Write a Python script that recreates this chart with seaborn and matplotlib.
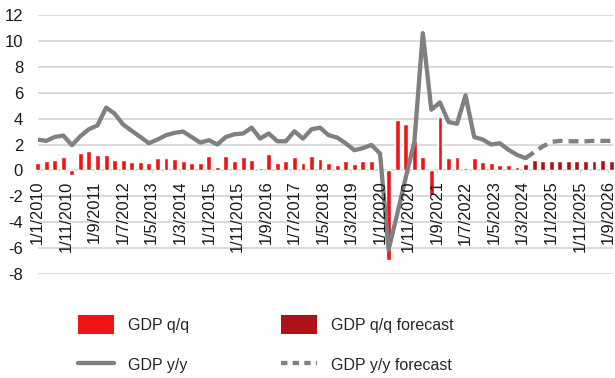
import pandas as pd
import numpy as np
import matplotlib
matplotlib.use("Agg")
import matplotlib.pyplot as plt
import matplotlib.transforms as mtransforms
import seaborn as sns
from matplotlib.patches import Patch
from matplotlib.lines import Line2D

# quarterly data, 1/1/2010 .. 1/10/2026
quarters = pd.date_range("2010-01-01", periods=68, freq="QS")

# GDP q/q (actual) up to 1/1/2024, forecast after that
gdp_qq = [0.6, 0.74, 0.82, 1.02, -0.35, 1.38, 1.53, 1.17, 1.17, 0.82,
          0.78, 0.64, 0.64, 0.56, 0.95, 0.97, 0.9, 0.72, 0.6, 0.56,
          1.12, 0.25, 1.15, 0.74, 1.07, 0.82, 0.2, 1.23, 0.56, 0.74,
          1.02, 0.6, 1.15, 0.87, 0.54, 0.38, 0.74, 0.49, 0.69, 0.69,
          0.1, -6.94, 3.87, 3.61, 2.28, 1.05, -1.92, 4.12, 0.92, 1.05,
          0.2, 0.97, 0.67, 0.59, 0.42, 0.45, 0.27]
gdp_qq_fc = [0.5, 0.77, 0.72, 0.72, 0.72, 0.72, 0.72, 0.72, 0.72, 0.77, 0.72]

# GDP y/y (actual) and forecast (forecast starts at the last actual point)
gdp_yy = [2.38, 2.28, 2.58, 2.69, 1.95, 2.64, 3.18, 3.48, 4.85, 4.38,
          3.54, 3.05, 2.58, 2.1, 2.38, 2.72, 2.9, 3.0, 2.58, 2.15,
          2.33, 2.0, 2.58, 2.79, 2.85, 3.3, 2.46, 2.85, 2.25, 2.25,
          3.02, 2.46, 3.18, 3.3, 2.72, 2.54, 2.08, 1.56, 1.72, 1.97,
          1.3, -6.13, -3.4, -0.55, 2.2, 10.6, 4.69, 5.25, 3.74, 3.6,
          5.8, 2.58, 2.38, 2.0, 2.1, 1.6, 1.2, 0.95]
gdp_yy_fc = [0.95, 1.4, 1.85, 2.2, 2.28, 2.25, 2.25, 2.25, 2.28, 2.28, 2.28]

y_ticks = [-8, -6, -4, -2, 0, 2, 4, 6, 8, 10, 12]
# x labels every 10 months
x_ticks = pd.date_range("2010-01-01", "2026-09-01", freq="10MS")
x_labels = [f"{d.day}/{d.month}/{d.year}" for d in x_ticks]

red = "#f01414"
dark_red = "#ae1117"
grey = "#808080"

n_act = len(gdp_qq)
df_bar = pd.DataFrame({"date": quarters[:n_act], "val": gdp_qq})
df_bar_fc = pd.DataFrame({"date": quarters[n_act:], "val": gdp_qq_fc})
df_yy = pd.DataFrame({"date": quarters[:len(gdp_yy)], "val": gdp_yy})
df_yy_fc = pd.DataFrame({"date": quarters[len(gdp_yy) - 1:], "val": gdp_yy_fc})

sns.set_theme(style="white")
plt.rcParams["font.family"] = ["Liberation Sans", "DejaVu Sans"]

fig = plt.figure(figsize=(6.15, 3.78), dpi=100)
ax = fig.add_axes([0.0613, 0.2751, 0.9359, 0.6852])

ax.bar(df_bar["date"], df_bar["val"], width=52, color=red, clip_on=False, zorder=2)
ax.bar(df_bar_fc["date"], df_bar_fc["val"], width=52, color=dark_red, clip_on=False, zorder=2)

sns.lineplot(data=df_yy, x="date", y="val", ax=ax, color=grey, lw=3.1, zorder=3)
sns.lineplot(data=df_yy_fc, x="date", y="val", ax=ax, color=grey, lw=3.1, zorder=3,
             linestyle=(0, (2.3, 1.4)))

ax.set_ylim(-8, 12)
ax.set_xlim(quarters[0], quarters[0] + pd.Timedelta(days=6140))
ax.set_yticks(y_ticks)
ax.set_yticklabels([str(v) for v in y_ticks])
ax.set_xticks(x_ticks)
ax.set_xlabel("")
ax.set_ylabel("")

ax.grid(axis="y", color="#d9d9d9", lw=1.4)
ax.grid(axis="x", visible=False)
ax.set_axisbelow(True)

for s in ["left", "right", "top"]:
    ax.spines[s].set_visible(False)
ax.spines["bottom"].set_position(("data", 0))
ax.spines["bottom"].set_color("#d9d9d9")
ax.spines["bottom"].set_linewidth(1.1)
ax.spines["bottom"].set_zorder(1)

ax.tick_params(axis="y", length=0, pad=10.5, labelsize=12, labelcolor="#1a1a1a")
ax.tick_params(axis="x", bottom=True, length=2.5, width=1, color="#d9d9d9",
               labelbottom=False)

# date labels hang just below the zero line, rotated
lab_trans = mtransforms.offset_copy(ax.transData, fig=fig, x=0, y=-10, units="dots")
for d, lab in zip(x_ticks, x_labels):
    ax.text(d, 0, lab, transform=lab_trans, rotation=90, ha="center", va="top",
            fontsize=11.8, color="#1a1a1a", clip_on=False)

handles = [Patch(facecolor=red, edgecolor="none"),
           Line2D([], [], color=grey, lw=3.1),
           Patch(facecolor=dark_red, edgecolor="none"),
           Line2D([], [], color=grey, lw=3.1, linestyle=(0, (1.5, 1.2)))]
labels = ["GDP q/q", "GDP y/y", "GDP q/q forecast", "GDP y/y forecast"]
fig.legend(handles, labels, ncol=2, loc="center", bbox_to_anchor=(0.4317, 0.0881),
           frameon=False, fontsize=11.5, handlelength=2.25, handleheight=1.36,
           handletextpad=0.88, columnspacing=5.75, labelspacing=1.4,
           borderpad=0, borderaxespad=0)

fig.savefig("out.png", dpi=100)
